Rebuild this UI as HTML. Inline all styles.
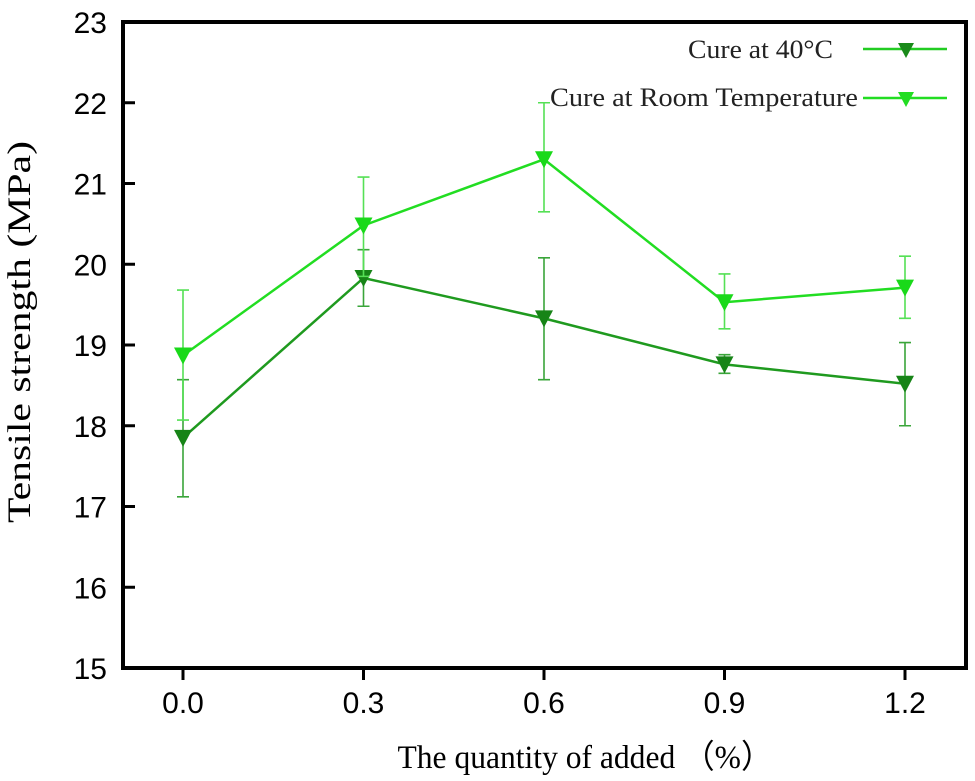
<!DOCTYPE html>
<html><head><meta charset="utf-8"><style>
body{margin:0;background:#fff}
svg{display:block}
.tk{font-family:"Liberation Sans",sans-serif;font-size:30px;fill:#000}
.lab{font-family:"Liberation Serif",serif;font-size:33px;fill:#000}
.leg{font-family:"Liberation Serif",serif;font-size:26px;fill:#222}
</style></head><body>
<svg id="chart" width="975" height="781">
<g id="axes"></g><g id="series"></g>
<text class="lab" x="0" y="0" transform="translate(30,332) rotate(-90)" text-anchor="middle" textLength="382" lengthAdjust="spacingAndGlyphs">Tensile strength (MPa)</text>
<text class="lab" x="585" y="768" text-anchor="middle" textLength="375" lengthAdjust="spacingAndGlyphs">The quantity of added （%）</text>
<g>
<text class="leg" x="833" y="58" text-anchor="end" textLength="145" lengthAdjust="spacingAndGlyphs">Cure at 40°C</text>
<line x1="863" y1="49" x2="947" y2="49" stroke="#22cc22" stroke-width="2.5"/>
<polygon points="898,43 914,43 906,58" fill="#1a8a1a"/>
<text class="leg" x="858" y="106" text-anchor="end" textLength="308" lengthAdjust="spacingAndGlyphs">Cure at Room Temperature</text>
<line x1="863" y1="98" x2="947" y2="98" stroke="#22dd22" stroke-width="2.5"/>
<polygon points="898,92 914,92 906,107" fill="#22dd22"/>
</g>
</svg>
<script>
const categories=[0.0,0.3,0.6,0.9,1.2];
const xTickLabels=["0.0","0.3","0.6","0.9","1.2"];
const yTicks=[15,16,17,18,19,20,21,22,23];
const cure40=[17.85,19.83,19.33,18.76,18.52];
const cure40Lo=[17.12,19.48,18.57,18.65,18.0];
const cure40Hi=[18.57,20.18,20.08,18.88,19.03];
const room=[18.87,20.48,21.3,19.53,19.71];
const roomLo=[18.07,19.85,20.65,19.2,19.33];
const roomHi=[19.68,21.08,22.0,19.88,20.1];

const NS="http://www.w3.org/2000/svg";
const L=123,R=966,T=22,B=668;
const xS=v=>183+(v-0)/1.2*(905-183);
const yS=v=>B-(v-15)/8*(B-T);
function mk(tag,at,parent){const e=document.createElementNS(NS,tag);for(const k in at)e.setAttribute(k,at[k]);parent.appendChild(e);return e;}
const ax=document.getElementById('axes');
const frame=mk('rect',{x:L,y:T,width:R-L,height:B-T,fill:'none',stroke:'#000','stroke-width':4},ax);


yTicks.forEach(v=>{
 const y=yS(v);
 const tl=mk('line',{x1:L,x2:L+12,y1:y,y2:y,stroke:'#000','stroke-width':3},ax);
 
 
 const t=mk('text',{x:L-16,y:y+11,'text-anchor':'end',class:'tk'},ax);t.textContent=v;
 
 
});
categories.forEach((c,i)=>{
 const x=xS(c);
 const tl=mk('line',{x1:x,x2:x,y1:B,y2:B+12,stroke:'#000','stroke-width':3},ax);
 
 
 const t=mk('text',{x:x,y:B+45,'text-anchor':'middle',class:'tk'},ax);t.textContent=xTickLabels[i];
 
 
});
const sg=document.getElementById('series');
function series(vals,lo,hi,lineCol,errCol,mCol,name){
 const g=mk('g',{},sg);
 
 
 vals.forEach((v,i)=>{
  const x=xS(categories[i]);
  const e=mk('path',{d:`M${x},${yS(lo[i])}V${yS(hi[i])}M${x-6},${yS(lo[i])}h12M${x-6},${yS(hi[i])}h12`,stroke:errCol,'stroke-width':1.6,fill:'none'},g);
  
  
 });
 const pl=mk('polyline',{points:vals.map((v,i)=>xS(categories[i])+','+yS(v)).join(' '),fill:'none',stroke:lineCol,'stroke-width':2.5},g);
 
 
 vals.forEach((v,i)=>{
  const x=xS(categories[i]),y=yS(v);
  const p=mk('polygon',{points:`${x-9},${y-8} ${x+9},${y-8} ${x},${y+9}`,fill:mCol},g);
  
  
 });
}
series(cure40,cure40Lo,cure40Hi,'#1f9a1f','#3aa53a','#178417','series-cure-40c');
series(room,roomLo,roomHi,'#22dd22','#55e055','#19d919','series-cure-room');
</script>
</body></html>
